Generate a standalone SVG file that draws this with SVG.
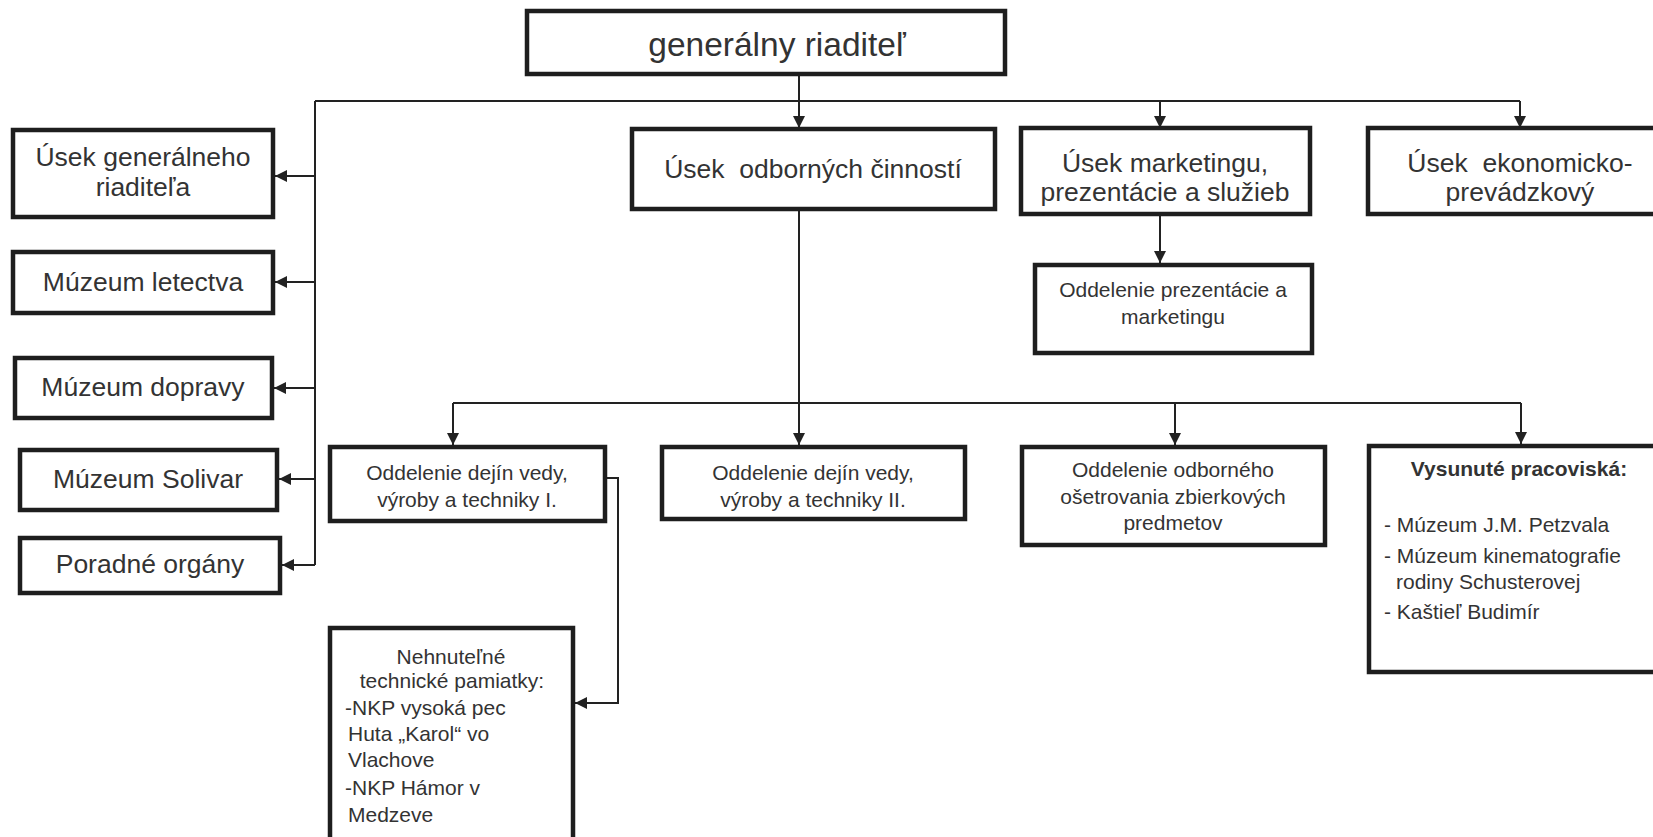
<svg xmlns="http://www.w3.org/2000/svg" width="1653" height="837" viewBox="0 0 1653 837">
<style>
.box{fill:#fff;stroke:#1e1e1e;stroke-width:4.5}
.ln{fill:none;stroke:#222;stroke-width:2}
text{font-family:"Liberation Sans",Arial,sans-serif;fill:#333}
.c{text-anchor:middle}
.f30{font-size:33.5px}
.f26{font-size:26.5px}
.f21{font-size:21px}
.b{font-weight:bold}
</style>
<defs>
<marker id="arr" viewBox="0 0 12 12" refX="12" refY="6" markerWidth="12" markerHeight="12" orient="auto" markerUnits="userSpaceOnUse">
<path d="M0,0 L12,6 L0,12 z" fill="#222"/>
</marker>
</defs>
<g id="connectors">
<path class="ln" d="M315,101 H1520"/>
<path class="ln" d="M315,101 V565"/>
<path class="ln" d="M799,74 V128" marker-end="url(#arr)"/>
<path class="ln" d="M1160,101 V128" marker-end="url(#arr)"/>
<path class="ln" d="M1520,101 V128" marker-end="url(#arr)"/>
<path class="ln" d="M315,176 H275" marker-end="url(#arr)"/>
<path class="ln" d="M315,282 H275" marker-end="url(#arr)"/>
<path class="ln" d="M315,388 H274" marker-end="url(#arr)"/>
<path class="ln" d="M315,479 H279" marker-end="url(#arr)"/>
<path class="ln" d="M315,565 H282" marker-end="url(#arr)"/>
<path class="ln" d="M1160,215 V263" marker-end="url(#arr)"/>
<path class="ln" d="M799,211 V445" marker-end="url(#arr)"/>
<path class="ln" d="M453,403 H1521"/>
<path class="ln" d="M453,403 V445" marker-end="url(#arr)"/>
<path class="ln" d="M1175,403 V445" marker-end="url(#arr)"/>
<path class="ln" d="M1521,403 V444" marker-end="url(#arr)"/>
<path class="ln" d="M607,478 H618 V703 H575" marker-end="url(#arr)"/>
</g>
<g id="n-gr">
<rect class="box" x="527" y="11" width="478" height="63"/>
<text class="c f30" x="777" y="56">generálny riaditeľ</text>
</g>
<g id="n-ugr">
<rect class="box" x="13" y="130" width="260" height="87"/>
<text class="c f26" x="143" y="166">Úsek generálneho</text>
<text class="c f26" x="143" y="196">riaditeľa</text>
</g>
<g id="n-let">
<rect class="box" x="13" y="252" width="260" height="61"/>
<text class="c f26" x="143" y="291">Múzeum letectva</text>
</g>
<g id="n-dop">
<rect class="box" x="15" y="358" width="257" height="60"/>
<text class="c f26" x="143" y="396">Múzeum dopravy</text>
</g>
<g id="n-sol">
<rect class="box" x="20" y="450" width="257" height="60"/>
<text class="c f26" x="148" y="488">Múzeum Solivar</text>
</g>
<g id="n-por">
<rect class="box" x="20" y="538" width="260" height="55"/>
<text class="c f26" x="150" y="573">Poradné orgány</text>
</g>
<g id="n-odb">
<rect class="box" x="632" y="129" width="363" height="80"/>
<text class="c f26" x="813" y="178" xml:space="preserve">Úsek  odborných činností</text>
</g>
<g id="n-mkt">
<rect class="box" x="1021" y="128" width="289" height="86"/>
<text class="c f26" x="1165" y="172">Úsek marketingu,</text>
<text class="c f26" x="1165" y="201">prezentácie a služieb</text>
</g>
<g id="n-eko">
<rect class="box" x="1368" y="128" width="310" height="86"/>
<text class="c f26" x="1520" y="172" xml:space="preserve">Úsek  ekonomicko-</text>
<text class="c f26" x="1520" y="201">prevádzkový</text>
</g>
<g id="n-pre">
<rect class="box" x="1035" y="265" width="277" height="88"/>
<text class="c f21" x="1173" y="297">Oddelenie prezentácie a</text>
<text class="c f21" x="1173" y="324">marketingu</text>
</g>
<g id="n-d1">
<rect class="box" x="330" y="447" width="275" height="74"/>
<text class="c f21" x="467" y="480">Oddelenie dejín vedy,</text>
<text class="c f21" x="467" y="507">výroby a techniky I.</text>
</g>
<g id="n-d2">
<rect class="box" x="662" y="447" width="303" height="72"/>
<text class="c f21" x="813" y="480">Oddelenie dejín vedy,</text>
<text class="c f21" x="813" y="507">výroby a techniky II.</text>
</g>
<g id="n-ose">
<rect class="box" x="1022" y="447" width="303" height="98"/>
<text class="c f21" x="1173" y="477">Oddelenie odborného</text>
<text class="c f21" x="1173" y="504">ošetrovania zbierkových</text>
<text class="c f21" x="1173" y="530">predmetov</text>
</g>
<g id="n-vys">
<rect class="box" x="1369" y="446" width="310" height="226"/>
<text class="c f21 b" x="1519" y="476">Vysunuté pracoviská:</text>
<text class="f21" x="1384" y="532">- Múzeum J.M. Petzvala</text>
<text class="f21" x="1384" y="563">- Múzeum kinematografie</text>
<text class="f21" x="1396" y="589">rodiny Schusterovej</text>
<text class="f21" x="1384" y="619">- Kaštieľ Budimír</text>
</g>
<g id="n-nkp">
<rect class="box" x="330" y="628" width="243" height="215"/>
<text class="c f21" x="451" y="664">Nehnuteľné</text>
<text class="c f21" x="452" y="688">technické pamiatky:</text>
<text class="f21" x="345" y="715">-NKP vysoká pec</text>
<text class="f21" x="348" y="741">Huta „Karol“ vo</text>
<text class="f21" x="348" y="767">Vlachove</text>
<text class="f21" x="345" y="795">-NKP Hámor v</text>
<text class="f21" x="348" y="822">Medzeve</text>
</g>
</svg>
